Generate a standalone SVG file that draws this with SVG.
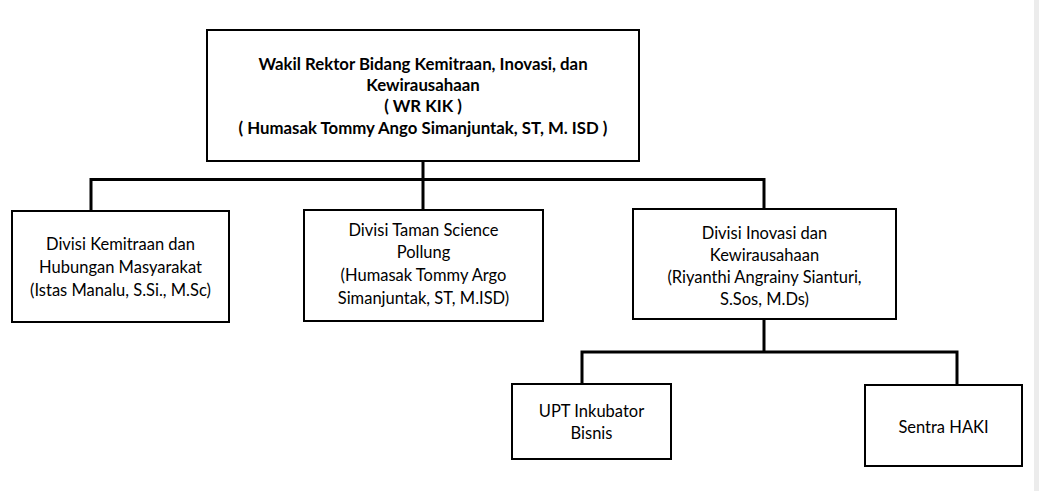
<svg xmlns="http://www.w3.org/2000/svg" width="1039" height="491" viewBox="0 0 1039 491">
<style>
.box{fill:#fff;stroke:#000;stroke-width:2}
.conn{fill:none;stroke:#000;stroke-width:3}
text{font-family:Lato,"Open Sans","Liberation Sans",sans-serif;font-size:16.5px;fill:#000;text-anchor:middle}
.b{font-weight:bold;font-size:16.8px}
</style>
<rect x="0" y="0" width="1039" height="491" fill="#fff"/>
<rect x="1034" y="0" width="5" height="491" fill="#ececec"/>
<g id="connectors">
<path class="conn" d="M423 161 V179.5 M91 211 V179.5 H764 V209 M423 179.5 V211"/>
<path class="conn" d="M764 319 V352 M582 384 V352 H957 V385"/>
</g>
<g id="wrkik">
<rect class="box" x="207" y="30" width="432" height="131"/>
<text class="b" x="423" y="70">Wakil Rektor Bidang Kemitraan, Inovasi, dan</text>
<text class="b" x="423" y="91">Kewirausahaan</text>
<text class="b" x="423" y="112">( WR KIK )</text>
<text class="b" x="423" y="134">( Humasak Tommy Ango Simanjuntak, ST, M. ISD )</text>
</g>
<g id="kemitraan">
<rect class="box" x="12" y="211" width="217" height="111"/>
<text x="120.5" y="250">Divisi Kemitraan dan</text>
<text x="120.5" y="273">Hubungan Masyarakat</text>
<text x="120.5" y="296">(Istas Manalu, S.Si., M.Sc)</text>
</g>
<g id="taman">
<rect class="box" x="304" y="210" width="239" height="111"/>
<text x="423.5" y="236">Divisi Taman Science</text>
<text x="423.5" y="258">Pollung</text>
<text x="423.5" y="281">(Humasak Tommy Argo</text>
<text x="423.5" y="304">Simanjuntak, ST, M.ISD)</text>
</g>
<g id="inovasi">
<rect class="box" x="633" y="209" width="263" height="110"/>
<text x="764.5" y="239">Divisi Inovasi dan</text>
<text x="764.5" y="261">Kewirausahaan</text>
<text x="764.5" y="283">(Riyanthi Angrainy Sianturi,</text>
<text x="764.5" y="305">S.Sos, M.Ds)</text>
</g>
<g id="upt">
<rect class="box" x="512" y="384" width="159" height="75"/>
<text x="591.5" y="417">UPT Inkubator</text>
<text x="591.5" y="439">Bisnis</text>
</g>
<g id="haki">
<rect class="box" x="865" y="385" width="157" height="81"/>
<text x="943.5" y="433">Sentra HAKI</text>
</g>
</svg>
